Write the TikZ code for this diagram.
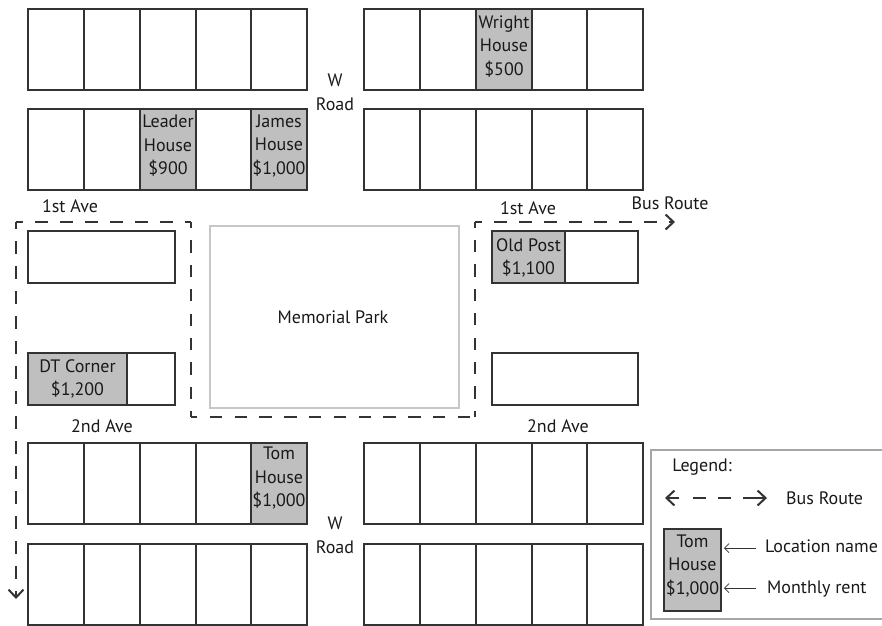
\documentclass[tikz,border=0pt]{standalone}
\usepackage{fontspec}
\setmainfont{PT Sans}
\usetikzlibrary{arrows.meta,calc}
\definecolor{lotgray}{HTML}{BFBFBF}
\definecolor{linegray}{HTML}{333333}
\tikzset{
  lot/.style={draw=linegray,line width=1.6pt,inner sep=0pt,outer sep=0pt,anchor=north west,
    minimum width=#1,minimum height=81pt},
  lot/.default=56pt,
  side/.style={lot=#1,minimum height=52pt},
  rented/.style={fill=lotgray},
  lbl/.style={inner sep=0pt,font=\fontsize{18pt}{23.5pt}\selectfont,text=black!90,align=center},
  route/.style={draw=linegray,line width=1.9pt},
  chev/.style={draw=linegray,line width=2pt,-{Straight Barb[length=8pt,width=15pt,line width=2pt]}},
  pointer/.style={draw=linegray,line width=.7pt,-{Straight Barb[length=4.5pt,width=9pt,line width=.7pt]}}
}
\begin{document}
\begin{tikzpicture}[x=1pt,y=-1pt]
\useasboundingbox (0,0) rectangle (882,625);
% Block rows
\foreach \bx/\bn in {28/L,364/R}{
  \foreach \by/\rn in {9/a,109/b,443/c,544/d}{
    \foreach \i/\cellx/\cellw in {0/0/56pt,1/56/56pt,2/112/56pt,3/168/55pt,4/223/56pt}{
      \node[lot=\cellw] (\bn\rn\i) at ({\bx+\cellx},\by) {};
    }
  }
}
% Rented lots
\node[lot,rented] (wright) at (476,9) {};
\node[lot,rented] (leader) at (140,109) {};
\node[lot,rented] (james) at (251,109) {};
\node[lot,rented] (tom) at (251,443) {};
\node[lbl] (wrightt) at ([yshift=3pt]wright.center) {Wright\\House\\\$500};
\node[lbl] (leadert) at ([yshift=3.5pt]leader.center) {Leader\\House\\\$900};
\node[lbl] (jamest) at ([yshift=3.5pt]james.center) {James\\House\\\$1,000};
\node[lbl] (tomt) at ([yshift=5pt]tom.center) {Tom\\House\\\$1,000};
% Side blocks
\node[side=147pt] (sideA) at (28,231) {};
\node[side=99pt,rented,lbl] (dt) at (28,353) {DT Corner\\\$1,200};
\node[side=48pt] (dtb) at (127,353) {};
\node[side=73pt,rented,lbl] (old) at (492,231) {};
\node[lbl] (oldt) at ([yshift=-1pt]old.center) {Old Post\\\$1,100};
\node[side=73pt] (oldb) at (565,231) {};
\node[side=146pt] (sideB) at (492,353) {};
% Park
\node[draw=black!22,line width=2.8pt,minimum width=249pt,minimum height=182pt,anchor=north west,inner sep=0pt,outer sep=0pt] (park) at (210,226) {};
\node[lbl] (parkname) at (333,317) {Memorial Park};
% Road labels
\node[lbl] (w1) at (335,80) {W};
\node[lbl] (r1) at (335,104) {Road};
\node[lbl] (w2) at (335,523) {W};
\node[lbl] (r2) at (335,547) {Road};
\node[lbl] (av1) at (70,206) {1st Ave};
\node[lbl] (av2) at (528,208) {1st Ave};
\node[lbl] (av3) at (102,426) {2nd Ave};
\node[lbl] (av4) at (558,426) {2nd Ave};
\node[lbl] (busl) at (670,203) {Bus Route};
% Bus route
\coordinate (s) at (16,597);
\coordinate (c1) at (16,222);
\coordinate (c2) at (191,222);
\coordinate (c3) at (191,417);
\coordinate (c4) at (475,417);
\coordinate (c5) at (475,222);
\coordinate (e) at (675,222);
\draw[route,dash pattern=on 12.5pt off 12.5pt,dash phase=6pt] (c1) -- (c2);
\draw[route,dash pattern=on 12.2pt off 12.2pt,dash phase=6pt] (c2) -- (c3);
\draw[route,dash pattern=on 12.4pt off 12.4pt,dash phase=6pt] (c3) -- (c4);
\draw[route,dash pattern=on 12.2pt off 12.2pt,dash phase=6pt] (c4) -- (c5);
\draw[route,dash pattern=on 12.5pt off 12.5pt,dash phase=6pt] (c5) -- ($(e)+(-6,0)$);
\draw[route,dash pattern=on 12.5pt off 12.5pt,dash phase=6pt] (c1) -- ($(s)+(0,-14)$);
\draw[chev] ($(e)+(-6,0)$) -- (e);
\draw[chev] ($(s)+(0,-6)$) -- ($(s)+(0,2)$);
% Legend
\draw[draw=black!35,line width=1.2pt] (882,450) -- (651,450) -- (651,619) -- (882,619);
\node[lbl] (legt) at (702,467) {Legend:};
\coordinate (la) at (665,498);
\coordinate (lb) at (767,498);
\draw[route,dash pattern=on 13pt off 12pt] (693,498) -- (731,498);
\draw[chev] ($(la)+(14,0)$) -- (la);
\draw[chev] ($(lb)+(-24,0)$) -- (lb);
\node[lbl,anchor=west] (legb) at (786,498) {Bus Route};
\node[lot=57pt,rented,minimum height=82pt] (legtom) at (664,529) {};
\node[lbl] (legtomt) at ([yshift=4pt]legtom.center) {Tom\\House\\\$1,000};
\node[lbl,anchor=west] (legn) at (765,546) {Location name};
\node[lbl,anchor=west] (legm) at (767,589) {Monthly rent};
\draw[pointer] (legn.west |- 0,548) ++(-9,0) -- (724,548);
\draw[pointer] (legm.west |- 0,588) ++(-11,0) -- (724,588);
\end{tikzpicture}
\end{document}
